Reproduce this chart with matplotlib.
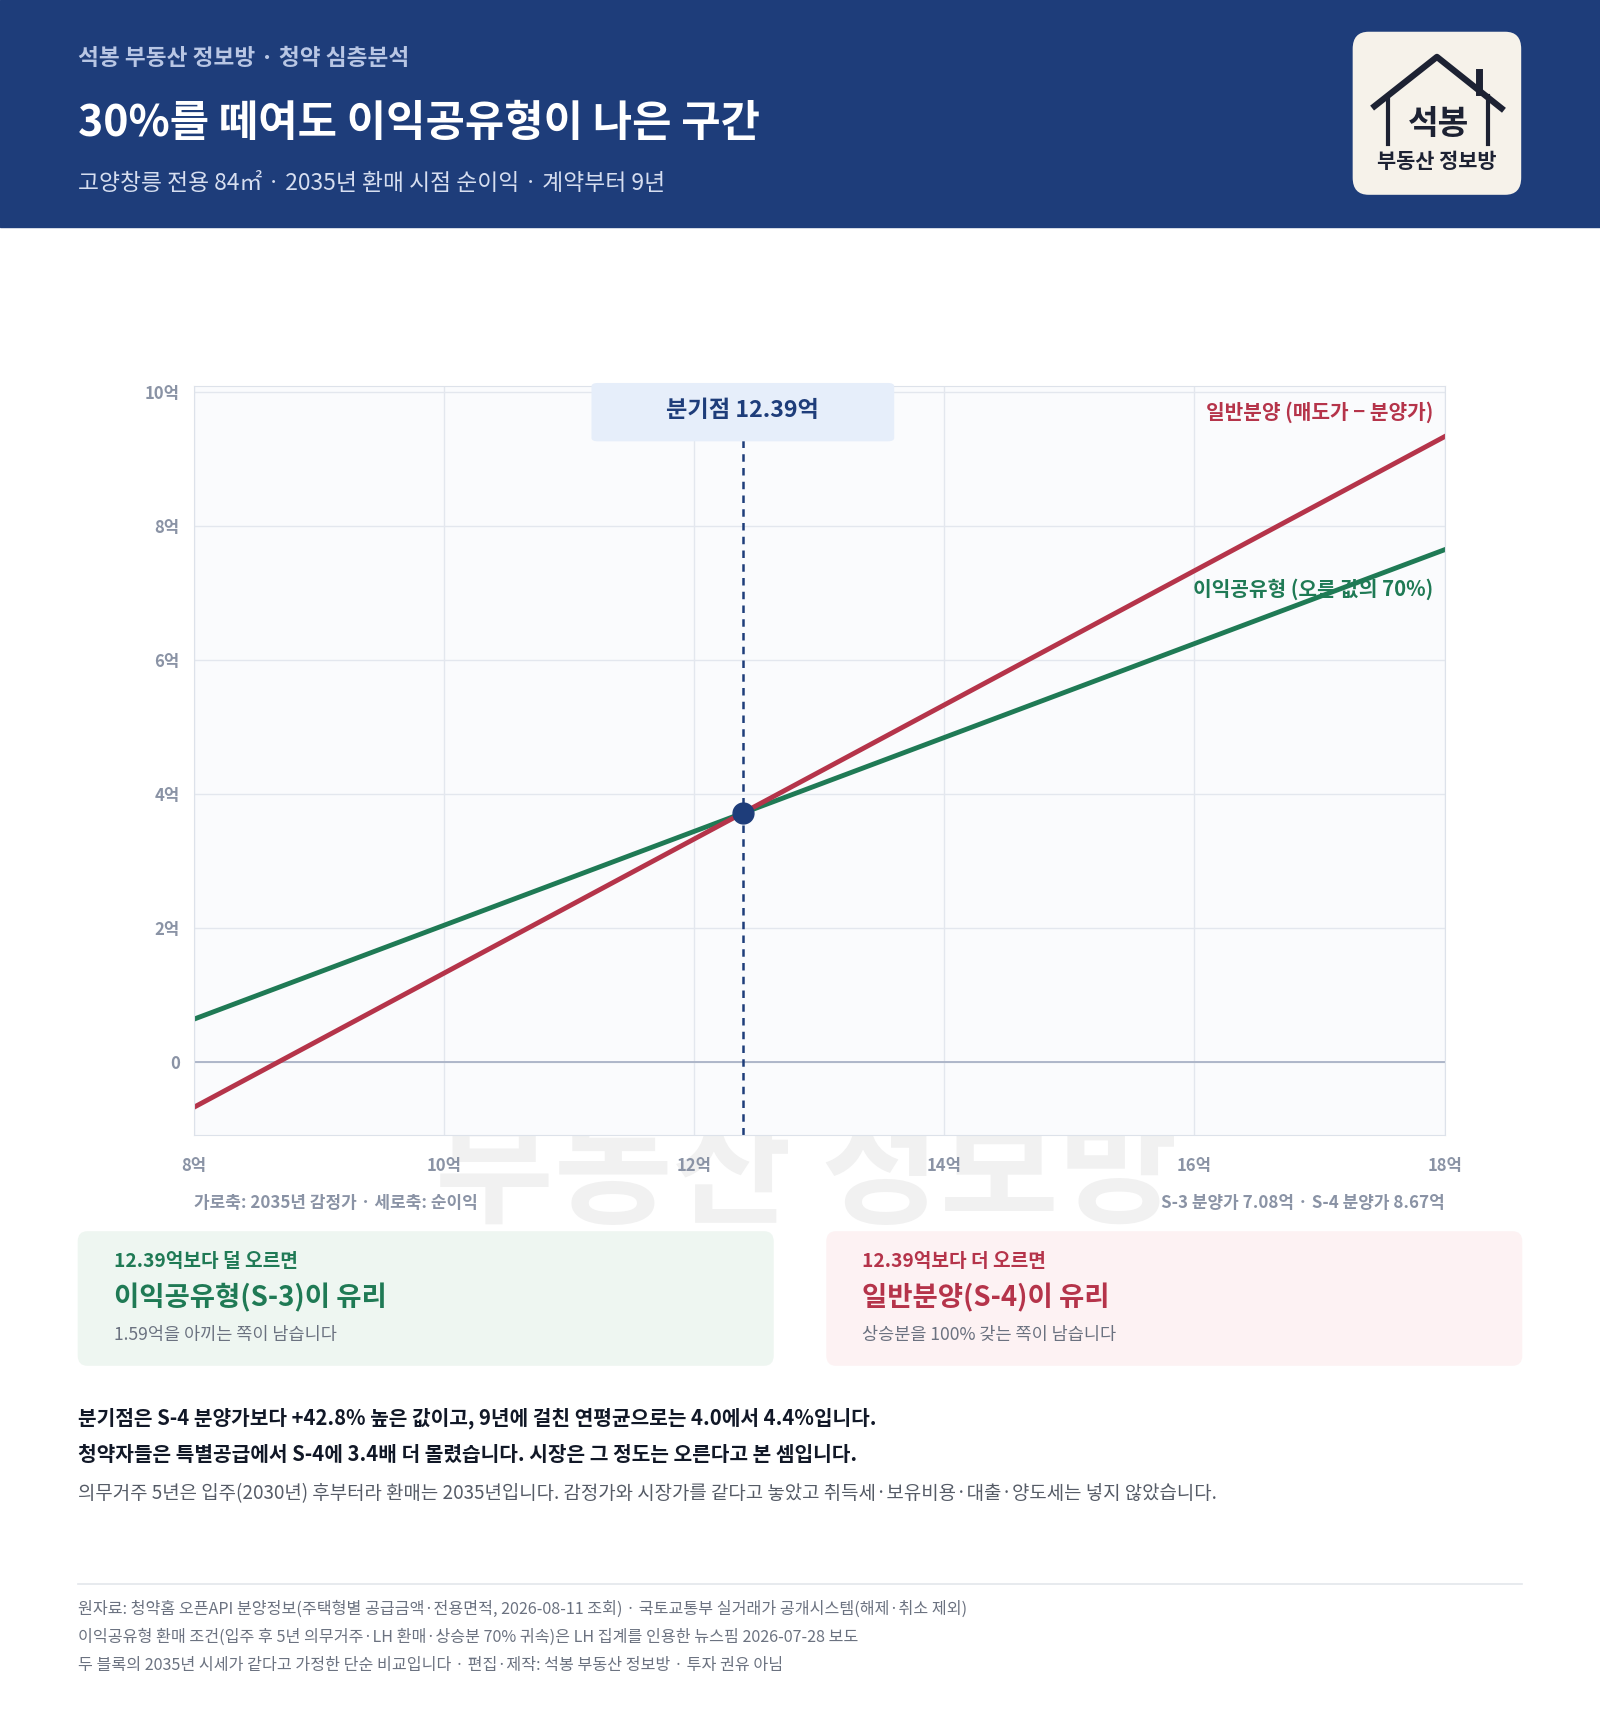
import matplotlib
matplotlib.use("Agg")
import matplotlib.pyplot as plt
from matplotlib.patches import FancyBboxPatch, Rectangle
import numpy as np

plt.rcParams['font.family'] = ['Noto Sans CJK KR', 'DejaVu Sans']

price = [8, 18]
s3_price = 7.08
s4_price = 8.67
share = 0.7
general = [p - s4_price for p in price]
shared = [share * (p - s3_price) for p in price]
breakeven = 12.39
be_profit = breakeven - s4_price
xticks = [8, 10, 12, 14, 16, 18]
xticklabels = ['8억', '10억', '12억', '14억', '16억', '18억']
yticks = [0, 2, 4, 6, 8, 10]
yticklabels = ['0', '2억', '4억', '6억', '8억', '10억']

W, H = 1600, 1716
S = 1600 / 1462
fig = plt.figure(figsize=(W / 100, H / 100), dpi=100)
fig.patch.set_facecolor('white')

def fx(x): return x * S / W
def fy(y): return 1 - y * S / H

NAVY = '#1e3d7a'
RED = '#b5344a'
GREEN = '#1f7a55'

# header
fig.patches.append(Rectangle((0, fy(207)), 1, 1 - fy(207), transform=fig.transFigure, color=NAVY, zorder=0))
fig.text(fx(71), fy(53), '석봉 부동산 정보방 · 청약 심층분석', color='#b8c6e4', fontsize=16.3, fontweight='bold', va='center')
fig.text(fx(71), fy(112), '30%를 떼여도 이익공유형이 나은 구간', color='white', fontsize=30.8, fontweight='bold', va='center')
fig.text(fx(71), fy(168), '고양창릉 전용 84㎡ · 2035년 환매 시점 순이익 · 계약부터 9년', color='#d6def0', fontsize=16.4, va='center')
# logo
fig.patches.append(FancyBboxPatch((fx(1236), fy(178)), fx(154), fy(29) - fy(178), boxstyle='round,pad=0,rounding_size=0.01',
                                  transform=fig.transFigure, facecolor='#f6f2ea', edgecolor='none', zorder=1))
fig.lines.append(plt.Line2D([fx(1256), fx(1313), fx(1372)], [fy(97), fy(52), fy(99)], transform=fig.transFigure, color='#1d2233', lw=4.5))
fig.lines.append(plt.Line2D([fx(1351), fx(1351)], [fy(66), fy(84)], transform=fig.transFigure, color='#1d2233', lw=5))
fig.lines.append(plt.Line2D([fx(1268), fx(1268)], [fy(88), fy(132)], transform=fig.transFigure, color='#1d2233', lw=3))
fig.lines.append(plt.Line2D([fx(1360), fx(1360)], [fy(88), fy(132)], transform=fig.transFigure, color='#1d2233', lw=3))
fig.text(fx(1314), fy(114), '석봉', color='#1d2233', fontsize=24, fontweight='bold', ha='center', va='center')
fig.text(fx(1313), fy(148), '부동산 정보방', color='#1d2233', fontsize=15, fontweight='bold', ha='center', va='center')

# watermark
fig.text(fx(737), fy(1074), '부동산 정보방', color='#f1f1f1', fontsize=93, fontweight='bold', ha='center', va='center', zorder=0)

ax = fig.add_axes([fx(177), fy(1037), fx(1320) - fx(177), fy(353) - fy(1037)])
ax.set_zorder(2)
ax.set_facecolor('#fafbfd')
ax.set_xlim(8, 18)
ax.set_ylim(-1.08, 10.08)
for sp in ax.spines.values():
    sp.set_color('#dde2ea')
ax.set_xticks(xticks)
ax.set_xticklabels(xticklabels)
ax.set_yticks(yticks)
ax.set_yticklabels(yticklabels)
ax.tick_params(length=0, colors='#8a93a5', labelsize=12)
ax.tick_params(axis='x', pad=16)
ax.tick_params(axis='y', pad=10)
for l in ax.get_xticklabels() + ax.get_yticklabels():
    l.set_fontweight('bold')
ax.grid(True, color='#e3e7ee', lw=1)
ax.axhline(0, color='#a9b2c6', lw=1.3)
ax.plot(price, shared, color=GREEN, lw=3.5)
ax.plot(price, general, color=RED, lw=3.5)
ax.axvline(breakeven, color=NAVY, lw=1.8, ls=(0, (3, 2.5)))
ax.plot([breakeven], [be_profit], 'o', color=NAVY, ms=15, zorder=5)
ax.text(17.91, 9.7, '일반분양 (매도가 − 분양가)', color=RED, fontsize=14.6, fontweight='bold', ha='right', va='center')
ax.text(17.91, 7.05, '이익공유형 (오른 값의 70%)', color=GREEN, fontsize=14.6, fontweight='bold', ha='right', va='center')
ax.add_patch(FancyBboxPatch((11.18, 9.26), 2.42, 0.87, boxstyle='round,pad=0,rounding_size=0.05',
                            fc='#e6eefa', ec='none', clip_on=False, zorder=4))
ax.text(breakeven, 9.72, f'분기점 {breakeven}억', color=NAVY, fontsize=16.7, fontweight='bold', ha='center', va='center', zorder=5)

fig.text(fx(177), fy(1099), '가로축: 2035년 감정가 · 세로축: 순이익', color='#8a93a5', fontsize=12.2, fontweight='bold', va='center')
fig.text(fx(1320), fy(1099), 'S-3 분양가 7.08억 · S-4 분양가 8.67억', color='#8a93a5', fontsize=12.2, fontweight='bold', va='center', ha='right')

# boxes
for x0, fc, col, l1, l2, l3 in [(71, '#eef6f1', GREEN, '12.39억보다 덜 오르면', '이익공유형(S-3)이 유리', '1.59억을 아끼는 쪽이 남습니다'),
                                (755, '#fdf2f3', RED, '12.39억보다 더 오르면', '일반분양(S-4)이 유리', '상승분을 100% 갖는 쪽이 남습니다')]:
    fig.patches.append(FancyBboxPatch((fx(x0), fy(1248)), fx(636), fy(1125) - fy(1248), boxstyle='round,pad=0,rounding_size=0.006',
                                      transform=fig.transFigure, facecolor=fc, edgecolor='none'))
    fig.text(fx(x0 + 33), fy(1153), l1, color=col, fontsize=13.8, fontweight='bold', va='center')
    fig.text(fx(x0 + 33), fy(1186), l2, color=col, fontsize=19.8, fontweight='bold', va='center')
    fig.text(fx(x0 + 33), fy(1220), l3, color='#6b7280', fontsize=12.6, va='center')

fig.text(fx(71), fy(1296), '분기점은 S-4 분양가보다 +42.8% 높은 값이고, 9년에 걸친 연평균으로는 4.0에서 4.4%입니다.', color='#111827', fontsize=14.6, fontweight='bold', va='center')
fig.text(fx(71), fy(1329), '청약자들은 특별공급에서 S-4에 3.4배 더 몰렸습니다. 시장은 그 정도는 오른다고 본 셈입니다.', color='#111827', fontsize=14.6, fontweight='bold', va='center')
fig.text(fx(71), fy(1365), '의무거주 5년은 입주(2030년) 후부터라 환매는 2035년입니다. 감정가와 시장가를 같다고 놓았고 취득세·보유비용·대출·양도세는 넣지 않았습니다.', color='#555b66', fontsize=13.6, va='center')
fig.lines.append(plt.Line2D([fx(71), fx(1391)], [fy(1447), fy(1447)], transform=fig.transFigure, color='#e3e6eb', lw=1.2))
for y, t in [(1470, '원자료: 청약홈 오픈API 분양정보(주택형별 공급금액·전용면적, 2026-08-11 조회) · 국토교통부 실거래가 공개시스템(해제·취소 제외)'),
             (1496, '이익공유형 환매 조건(입주 후 5년 의무거주·LH 환매·상승분 70% 귀속)은 LH 집계를 인용한 뉴스핌 2026-07-28 보도'),
             (1522, '두 블록의 2035년 시세가 같다고 가정한 단순 비교입니다 · 편집·제작: 석봉 부동산 정보방 · 투자 권유 아님')]:
    fig.text(fx(71), fy(y), t, color='#6b7280', fontsize=11.6, va='center')

fig.savefig('out.png', dpi=100, facecolor='white')
